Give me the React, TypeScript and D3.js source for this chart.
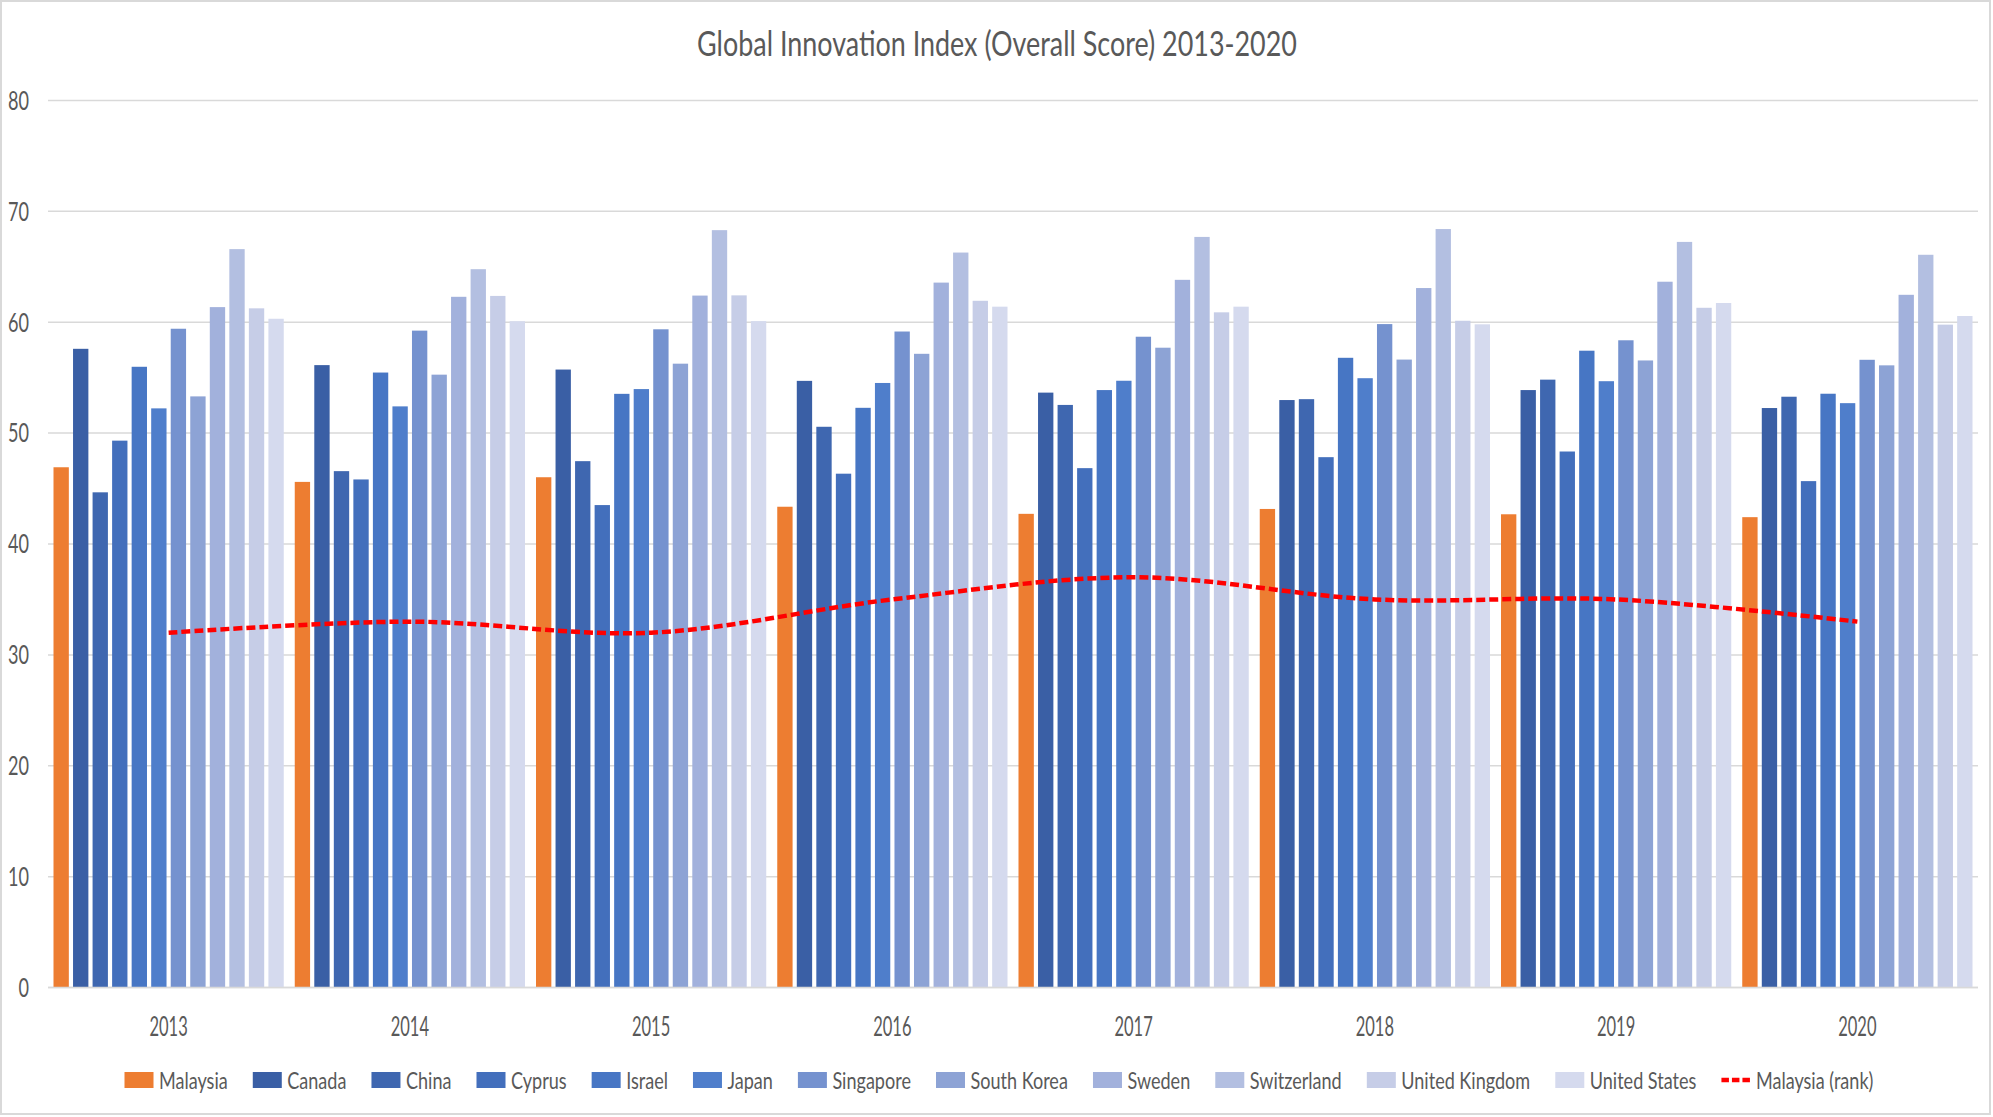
import React, { useEffect, useRef } from "react";
import * as d3 from "d3";

const W = 1993;
const H = 1117;

const chartTitle = "Global Innovation Index (Overall Score) 2013-2020";
const years = ["2013", "2014", "2015", "2016", "2017", "2018", "2019", "2020"];
const yTicks = [0, 10, 20, 30, 40, 50, 60, 70, 80];

const seriesNames = [
  "Malaysia", "Canada", "China", "Cyprus", "Israel", "Japan",
  "Singapore", "South Korea", "Sweden", "Switzerland", "United Kingdom", "United States",
];

const malaysia = [46.92, 45.6, 46.02, 43.36, 42.72, 43.16, 42.68, 42.42];
const canada = [57.6, 56.13, 55.73, 54.71, 53.65, 52.98, 53.88, 52.26];
const china = [44.66, 46.57, 47.47, 50.57, 52.54, 53.06, 54.82, 53.28];
const cyprus = [49.32, 45.82, 43.51, 46.34, 46.84, 47.83, 48.34, 45.67];
const israel = [55.98, 55.46, 53.54, 52.28, 53.88, 56.79, 57.43, 53.55];
const japan = [52.23, 52.41, 53.97, 54.52, 54.72, 54.95, 54.68, 52.7];
const singapore = [59.41, 59.24, 59.36, 59.16, 58.69, 59.83, 58.37, 56.61];
const southKorea = [53.31, 55.27, 56.26, 57.15, 57.7, 56.63, 56.55, 56.11];
const sweden = [61.36, 62.29, 62.4, 63.57, 63.82, 63.08, 63.65, 62.47];
const switzerland = [66.59, 64.78, 68.3, 66.28, 67.69, 68.4, 67.24, 66.08];
const unitedKingdom = [61.25, 62.37, 62.42, 61.93, 60.89, 60.13, 61.3, 59.78];
const unitedStates = [60.31, 60.09, 60.1, 61.4, 61.4, 59.81, 61.73, 60.56];

const rankLabel = "Malaysia (rank)";
const malaysiaRank = [32, 33, 32, 35, 37, 35, 35, 33];

const seriesValues = [
  malaysia, canada, china, cyprus, israel, japan,
  singapore, southKorea, sweden, switzerland, unitedKingdom, unitedStates,
];

const seriesColors = [
  "#ED7D31", "#3A5FA5", "#3F67B0", "#436FBC", "#4776C4", "#4F7ECB",
  "#7592CF", "#8DA3D5", "#A2B1DC", "#B3BFE1", "#C6CDE7", "#D5DAEE",
];
const rankColor = "#FF0000";

export default function App() {
  const ref = useRef<SVGSVGElement>(null);

  useEffect(() => {
    const svg = d3.select(ref.current as SVGSVGElement);
    svg.selectAll("*").remove();
    const font = "Lato, 'Open Sans', sans-serif";
    const textColor = "#595959";

    const measure = (txt: string, size: number) => {
      const t = svg.append("text").attr("font-family", font).attr("font-size", size).text(txt);
      const w = (t.node() as SVGTextElement).getComputedTextLength();
      t.remove();
      return w;
    };

    // background + border
    svg.append("rect").attr("x", 0).attr("y", 0).attr("width", W).attr("height", H).attr("fill", "#fff");
    svg.append("rect").attr("x", 1).attr("y", 1).attr("width", W - 4).attr("height", H - 4)
      .attr("fill", "none").attr("stroke", "#D9D9D9").attr("stroke-width", 2);

    const plotL = 48, plotR = 1978, plotT = 100.4, plotB = 987.6;
    const x0 = d3.scaleBand<string>().domain(years).range([plotL, plotR]).padding(0);
    const x1 = d3.scaleBand<string>().domain(seriesNames)
      .range([5.5, x0.bandwidth() - 5.5]).paddingInner(0.215).paddingOuter(0);
    const y = d3.scaleLinear().domain([0, 80]).range([plotB, plotT]);

    // gridlines
    svg.append("g").selectAll("line").data(yTicks).join("line")
      .attr("x1", plotL).attr("x2", plotR)
      .attr("y1", (d) => y(d)).attr("y2", (d) => y(d))
      .attr("stroke", "#D9D9D9").attr("stroke-width", 1.5);

    // bars
    const gBars = svg.append("g");
    seriesNames.forEach((name, si) => {
      gBars.append("g").attr("fill", seriesColors[si])
        .selectAll("rect").data(seriesValues[si]).join("rect")
        .attr("x", (_d, i) => (x0(years[i]) as number) + (x1(name) as number))
        .attr("width", x1.bandwidth())
        .attr("y", (d) => y(d))
        .attr("height", (d) => y(0) - y(d));
    });

    // axis baseline
    svg.append("line").attr("x1", plotL).attr("x2", plotR).attr("y1", y(0)).attr("y2", y(0))
      .attr("stroke", "#D9D9D9").attr("stroke-width", 1.5);

    // rank line
    const line = d3.line<number>()
      .x((_d, i) => (x0(years[i]) as number) + x0.bandwidth() / 2)
      .y((d) => y(d))
      .curve(d3.curveCardinal.tension(0));
    svg.append("path").datum(malaysiaRank).attr("d", line)
      .attr("fill", "none").attr("stroke", rankColor).attr("stroke-width", 4.5)
      .attr("stroke-dasharray", "9 4");

    // scaled text helper
    const addText = (txt: string, x: number, yy: number, size: number, sx: number, anchor: string) => {
      svg.append("text").attr("font-family", font).attr("font-size", size).attr("fill", textColor)
        .attr("text-anchor", anchor).attr("transform", `translate(${x},${yy}) scale(${sx},1)`)
        .text(txt);
    };

    // y tick labels
    const tickSize = 26;
    const tickSx = 21 / measure("80", tickSize);
    yTicks.forEach((t) => addText(String(t), 29, y(t) + 9.3, tickSize, tickSx, "end"));

    // x labels
    const yearSx = 38.3 / measure("2013", tickSize);
    years.forEach((yr) => addText(yr, (x0(yr) as number) + x0.bandwidth() / 2, 1036, tickSize, yearSx, "middle"));

    // title
    const titleSize = 34;
    const titleSx = 600 / measure(chartTitle, titleSize);
    addText(chartTitle, 997, 56, titleSize, titleSx, "middle");

    // legend
    const legSize = 23;
    const swW = 29, swH = 16, swGap = 5.5, itemGap = 25;
    const items = [...seriesNames.map((n, i) => ({ name: n, color: seriesColors[i], line: false })),
      { name: rankLabel, color: rankColor, line: true }];
    const rawWidths = items.map((it) => measure(it.name, legSize));
    const fixed = items.length * (swW + swGap) + (items.length - 1) * itemGap;
    const targetTotal = 1749;
    const legSx = (targetTotal - fixed) / rawWidths.reduce((a, b) => a + b, 0);
    const widths = rawWidths.map((w) => w * legSx);
    let cx = 999 - targetTotal / 2;
    const legY = 1080;
    items.forEach((it, i) => {
      if (it.line) {
        svg.append("line").attr("x1", cx).attr("x2", cx + swW).attr("y1", legY).attr("y2", legY)
          .attr("stroke", it.color).attr("stroke-width", 4.5).attr("stroke-dasharray", "7.5 3");
      } else {
        svg.append("rect").attr("x", cx).attr("y", legY - swH / 2).attr("width", swW).attr("height", swH)
          .attr("fill", it.color);
      }
      addText(it.name, cx + swW + swGap, legY + 8.5, legSize, legSx, "start");
      cx += swW + swGap + widths[i] + itemGap;
    });
  }, []);

  return <svg ref={ref} width={W} height={H} style={{ position: "absolute", left: 0, top: 0, display: "block" }} />;
}
